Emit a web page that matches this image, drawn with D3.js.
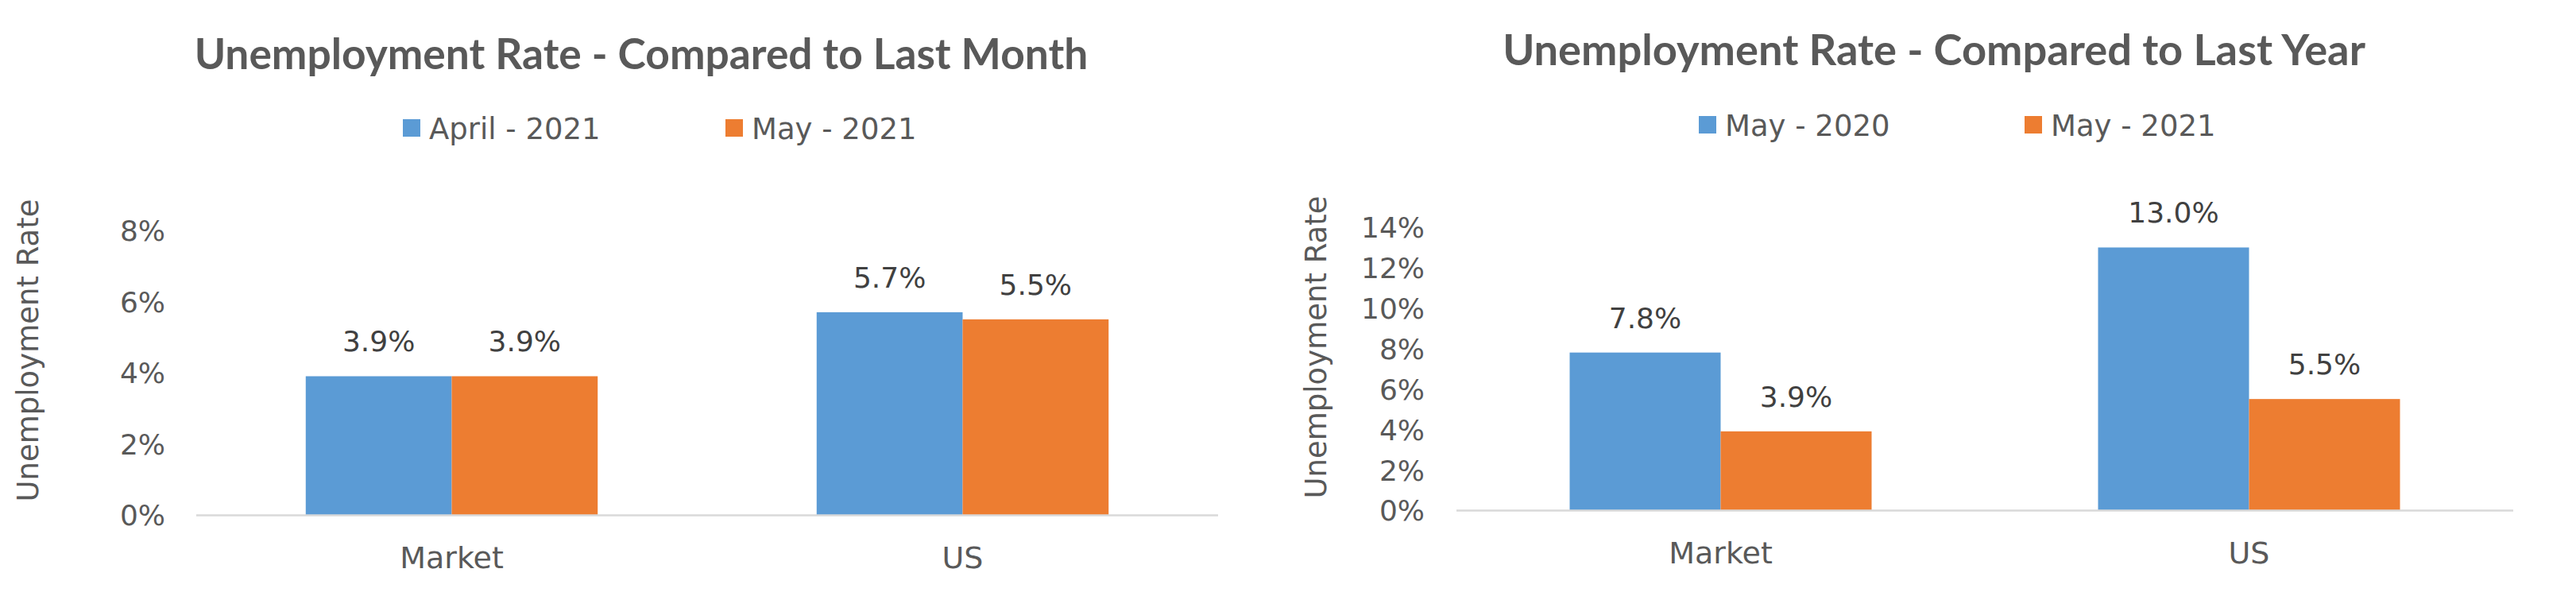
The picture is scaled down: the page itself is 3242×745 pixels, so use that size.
<!DOCTYPE html>
<html>
<head>
<meta charset="utf-8">
<script src="https://cdn.jsdelivr.net/npm/d3@7"></script>
<style>
  html, body { margin: 0; padding: 0; background: #ffffff; }
  svg { display: block; }
</style>
</head>
<body>
<svg id="chart" width="3242" height="745"></svg>
<script>
// ---------- data ----------
const categories = ["Market", "US"];

const monthTitle = "Unemployment Rate - Compared to Last Month";
const monthSeries = ["April - 2021", "May - 2021"];
const monthApril2021 = [3.9, 5.7];
const monthMay2021 = [3.9, 5.5];
const monthTicks = [0, 2, 4, 6, 8];

const yearTitle = "Unemployment Rate - Compared to Last Year";
const yearSeries = ["May - 2020", "May - 2021"];
const yearMay2020 = [7.8, 13.0];
const yearMay2021 = [3.9, 5.5];
const yearTicks = [0, 2, 4, 6, 8, 10, 12, 14];

const yAxisTitle = "Unemployment Rate";

// ---------- styles ----------
const colors = ["#5B9BD5", "#ED7D31"];
const textColor = "#595959";
const labelColor = "#404040";
const gridColor = "#D9D9D9";
const font = "'DejaVu Sans', sans-serif";
const titleFont = "Lato, 'DejaVu Sans', sans-serif";

const svg = d3.select("#chart");

function drawChart(cfg) {
  const g = svg.append("g");

  // title (fit to target width)
  const title = g.append("text")
    .attr("x", cfg.titleX).attr("y", cfg.titleY)
    .attr("text-anchor", "middle")
    .style("font-family", titleFont).style("font-weight", "bold")
    .style("font-size", "50px").style("fill", textColor)
    .text(cfg.title);
  const w = title.node().getComputedTextLength();
  title.style("font-size", (50 * cfg.titleW / w) + "px");

  // legend
  cfg.series.forEach((s, i) => {
    g.append("rect")
      .attr("x", cfg.legendX[i]).attr("y", cfg.legendY)
      .attr("width", 22).attr("height", 22)
      .attr("fill", colors[i]);
    g.append("text")
      .attr("x", cfg.legendX[i] + 33).attr("y", cfg.legendY + 25)
      .style("font-family", font).style("font-size", "37px")
      .style("fill", textColor)
      .text(s);
  });

  // scales
  const x = d3.scaleBand().domain(categories)
    .range([cfg.x0, cfg.x1]).paddingInner(1.5 / 3.5).paddingOuter(0.75 / 3.5);
  const xs = d3.scaleBand().domain(d3.range(cfg.series.length))
    .range([0, x.bandwidth()]).padding(0);
  const y = d3.scaleLinear().domain([0, d3.max(cfg.ticks)])
    .range([cfg.y0, cfg.yTop]);

  // y axis labels
  const yAxis = g.append("g")
    .attr("transform", `translate(${cfg.x0},0)`)
    .call(d3.axisLeft(y).tickValues(cfg.ticks).tickSize(0).tickPadding(cfg.tickPad)
      .tickFormat(d => d + "%"));
  yAxis.select(".domain").remove();
  yAxis.selectAll("text")
    .attr("dy", "0.36em")
    .style("font-family", font).style("font-size", "36px")
    .style("fill", textColor);

  // bars
  const rows = categories.map((c, ci) => ({ c, vals: cfg.values.map(v => v[ci]) }));
  const grp = g.selectAll(".grp").data(rows).join("g")
    .attr("transform", d => `translate(${x(d.c)},0)`);
  grp.selectAll("rect").data(d => d.vals.map((v, i) => ({ v, i }))).join("rect")
    .attr("x", d => xs(d.i))
    .attr("width", xs.bandwidth())
    .attr("y", d => y(d.v))
    .attr("height", d => y(0) - y(d.v))
    .attr("fill", d => colors[d.i]);
  grp.selectAll("text.lbl").data(d => d.vals.map((v, i) => ({ v, i }))).join("text")
    .attr("class", "lbl")
    .attr("x", d => xs(d.i) + xs.bandwidth() / 2)
    .attr("y", d => y(d.v) - 31)
    .attr("text-anchor", "middle")
    .style("font-family", font).style("font-size", "36px")
    .style("fill", labelColor)
    .text(d => d.v.toFixed(1) + "%");

  // x axis
  const xAxis = g.append("g")
    .attr("transform", `translate(0,${cfg.y0})`)
    .call(d3.axisBottom(x).tickSize(0).tickPadding(0));
  xAxis.select(".domain").remove();
  xAxis.selectAll("text")
    .attr("y", 67).attr("dy", 0)
    .style("font-family", font).style("font-size", "38px")
    .style("fill", textColor);
  g.append("line")
    .attr("x1", cfg.x0).attr("x2", cfg.x1)
    .attr("y1", cfg.y0 + 0.5).attr("y2", cfg.y0 + 0.5)
    .attr("stroke", gridColor).attr("stroke-width", 2.6);

  // y axis title
  g.append("text")
    .attr("transform", `translate(${cfg.yTitleX},${cfg.yTitleY}) rotate(-90)`)
    .attr("text-anchor", "middle")
    .attr("dy", "0.36em")
    .style("font-family", font).style("font-size", "37px")
    .style("fill", textColor)
    .text(yAxisTitle);
}

drawChart({
  title: monthTitle, titleX: 807, titleY: 87, titleW: 1125,
  series: monthSeries, values: [monthApril2021, monthMay2021],
  legendX: [507, 913], legendY: 150,
  ticks: monthTicks, x0: 247, x1: 1533, y0: 648, yTop: 290, tickPad: 39,
  yTitleX: 35, yTitleY: 441
});

drawChart({
  title: yearTitle, titleX: 2434, titleY: 82, titleW: 1086,
  series: yearSeries, values: [yearMay2020, yearMay2021],
  legendX: [2138, 2548], legendY: 146,
  ticks: yearTicks, x0: 1833, x1: 3163, y0: 642, yTop: 286, tickPad: 40,
  yTitleX: 1656, yTitleY: 437
});
</script>
</body>
</html>
